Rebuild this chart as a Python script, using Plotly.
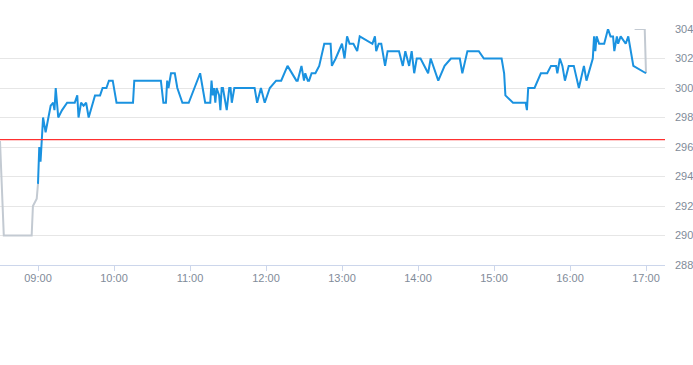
import plotly.graph_objects as go

DAY = "2024-01-02 "

# Regular session (blue)
session_times = [
    "09:00", "09:01", "09:02", "09:03", "09:04", "09:06", "09:08", "09:10", "09:12", "09:13",
    "09:14", "09:16", "09:19", "09:23", "09:29", "09:31", "09:32", "09:34", "09:36", "09:38",
    "09:40", "09:43", "09:45", "09:49", "09:51", "09:54", "09:56", "09:59", "10:02", "10:15",
    "10:16", "10:37", "10:39", "10:41", "10:42", "10:43", "10:45", "10:48", "10:50", "10:54",
    "10:59", "11:08", "11:10", "11:12", "11:16", "11:17", "11:18", "11:19", "11:20", "11:21",
    "11:23", "11:24", "11:25", "11:26", "11:28", "11:29", "11:31", "11:32", "11:33", "11:35",
    "11:51", "11:53", "11:56", "11:59", "12:03", "12:08", "12:12", "12:17", "12:24", "12:25",
    "12:28", "12:30", "12:31", "12:33", "12:34", "12:36", "12:39", "12:42", "12:46", "12:51",
    "12:52", "12:55", "13:00", "13:02", "13:04", "13:06", "13:09", "13:12", "13:14", "13:24",
    "13:26", "13:27", "13:29", "13:31", "13:34", "13:36", "13:45", "13:48", "13:50", "13:53",
    "13:55", "13:57", "13:59", "14:02", "14:08", "14:10", "14:16", "14:21", "14:26", "14:33",
    "14:35", "14:39", "14:48", "14:52", "15:06", "15:08", "15:09", "15:15", "15:25", "15:26",
    "15:27", "15:32", "15:37", "15:42", "15:45", "15:49", "15:50", "15:52", "15:54", "15:56",
    "15:59", "16:03", "16:07", "16:09", "16:11", "16:13", "16:18", "16:19", "16:20", "16:21",
    "16:23", "16:27", "16:30", "16:32", "16:34", "16:35", "16:37", "16:38", "16:40", "16:44",
    "16:46", "16:47", "16:50", "17:00",
]
session_prices = [
    293.5, 296, 295, 296.5, 298, 297, 298, 298.8, 299, 298.5,
    300, 298, 298.5, 299, 299, 299.5, 298, 299, 298.8, 299,
    298, 299, 299.5, 299.5, 300, 300, 300.5, 300.5, 299, 299,
    300.5, 300.5, 299, 299, 300.5, 300, 301, 301, 300, 299,
    299, 301, 300, 299, 299, 300.5, 299.5, 300, 299, 300,
    299.5, 298.5, 300, 300, 299, 298.5, 300, 300, 299, 300,
    300, 299, 300, 299, 300, 300.5, 300.5, 301.5, 300.5, 300.5,
    301.5, 300.5, 301, 300.5, 300.5, 301, 301, 301.5, 303, 303,
    301.5, 302, 303, 302, 303.5, 303, 303, 302.5, 303.5, 303,
    303.5, 302.5, 303, 303, 301.5, 302.5, 302.5, 301.5, 302.5, 301.5,
    302.5, 301, 302, 302, 301, 302, 300.5, 301.5, 302, 302,
    301, 302.5, 302.5, 302, 302, 301, 299.5, 299, 299, 298.5,
    300, 300, 301, 301, 301.5, 301.5, 301, 302, 301.5, 300.5,
    301.5, 301.5, 300, 300.8, 301.5, 300.5, 302, 303.5, 302.5, 303.5,
    303, 303, 304, 303.5, 303.5, 302.5, 303.5, 303, 303.5, 303,
    303.5, 303, 301.5, 301,
]

# Pre-market (grey)
pre_times = ["08:30", "08:33", "08:55", "08:56", "08:59", "09:00"]
pre_prices = [296.4, 290, 290, 292, 292.5, 293.5]

# Post-market (grey)
post_times = ["16:51", "16:59", "17:00"]
post_prices = [304, 304, 301]

prev_close = 296.5

y_ticks = [288, 290, 292, 294, 296, 298, 300, 302, 304]
x_range = ["08:30", "17:15"]

GREY = "#c3cad2"
BLUE = "#1a92e0"
TEXT = "#7f8b99"

fig = go.Figure()
fig.add_trace(go.Scatter(x=[DAY + t for t in pre_times], y=pre_prices, mode="lines",
                         line=dict(color=GREY, width=2), hoverinfo="skip"))
fig.add_trace(go.Scatter(x=[DAY + t for t in post_times], y=post_prices, mode="lines",
                         line=dict(color=GREY, width=2), hoverinfo="skip"))
fig.add_trace(go.Scatter(x=[DAY + t for t in session_times], y=session_prices, mode="lines",
                         line=dict(color=BLUE, width=2)))
fig.add_hline(y=prev_close, line=dict(color="#ff3030", width=1.2))

fig.update_layout(
    width=693, height=365,
    margin=dict(l=0, r=28, t=29, b=100, autoexpand=False),
    paper_bgcolor="white", plot_bgcolor="white",
    showlegend=False,
    font=dict(family="Liberation Sans, Arial, sans-serif", size=11, color=TEXT),
)
fig.update_xaxes(
    type="date", automargin=False,
    range=[DAY + x_range[0], DAY + x_range[1]],
    tick0=DAY + "09:00", dtick=3600000, tickformat="%H:%M",
    showgrid=False, zeroline=False,
    showline=True, linecolor="#ccd6eb", linewidth=1,
    ticks="outside", ticklen=5, tickcolor="#ccd6eb",
    ticklabelstandoff=-2,
    tickfont=dict(size=11, color=TEXT),
)
fig.update_yaxes(
    side="right", automargin=False, range=[288, 304],
    tickvals=y_ticks, ticktext=[str(v) for v in y_ticks],
    showgrid=True, gridcolor="#e6e6e6", gridwidth=1,
    zeroline=False, showline=False,
    ticklabelstandoff=9,
    tickfont=dict(size=11, color=TEXT),
)

fig.write_html("out.html", config={"displayModeBar": False},
               post_script="document.body.style.margin='0';")
